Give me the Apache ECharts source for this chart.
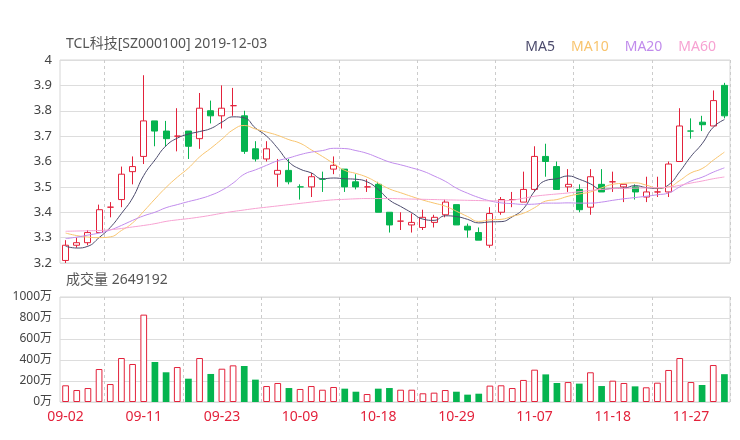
<!DOCTYPE html>
<html>
<head>
<meta charset="utf-8">
<script src="https://cdn.jsdelivr.net/npm/echarts@6/dist/echarts.min.js"></script>
<style>html,body{margin:0;padding:0;background:#fff}#c{width:740px;height:440px}</style>
</head>
<body>
<div id="c"></div>
<script>
var dates = ['09-02','09-03','09-04','09-05','09-06','09-09','09-10','09-11','09-12','09-16','09-17','09-18','09-19','09-20','09-23','09-24','09-25','09-26','09-27','09-30','10-08','10-09','10-10','10-11','10-14','10-15','10-16','10-17','10-18','10-21','10-22','10-23','10-24','10-25','10-28','10-29','10-30','10-31','11-01','11-04','11-05','11-06','11-07','11-08','11-11','11-12','11-13','11-14','11-15','11-18','11-19','11-20','11-21','11-22','11-25','11-26','11-27','11-28','11-29','12-02'];
var openP  = [3.21,3.27,3.28,3.32,3.42,3.45,3.56,3.62,3.76,3.72,3.70,3.72,3.69,3.80,3.78,3.82,3.78,3.65,3.61,3.55,3.565,3.50,3.50,3.53,3.57,3.57,3.52,3.50,3.51,3.40,3.365,3.35,3.34,3.36,3.39,3.43,3.345,3.32,3.27,3.40,3.45,3.44,3.49,3.62,3.58,3.50,3.49,3.42,3.51,3.52,3.50,3.50,3.46,3.48,3.48,3.60,3.72,3.755,3.74,3.90];
var closeP = [3.27,3.28,3.32,3.41,3.42,3.55,3.58,3.76,3.72,3.69,3.70,3.66,3.81,3.78,3.81,3.82,3.64,3.61,3.65,3.565,3.52,3.50,3.54,3.53,3.585,3.50,3.50,3.50,3.40,3.35,3.365,3.36,3.38,3.38,3.44,3.35,3.33,3.29,3.395,3.45,3.45,3.49,3.62,3.60,3.49,3.51,3.41,3.54,3.48,3.52,3.51,3.48,3.48,3.48,3.59,3.74,3.72,3.745,3.84,3.78];
var lowP   = [3.20,3.26,3.27,3.32,3.38,3.42,3.51,3.59,3.66,3.66,3.64,3.61,3.65,3.75,3.73,3.78,3.63,3.60,3.60,3.50,3.51,3.45,3.46,3.48,3.55,3.48,3.49,3.48,3.40,3.32,3.33,3.32,3.33,3.34,3.38,3.35,3.30,3.29,3.26,3.39,3.42,3.44,3.48,3.54,3.49,3.48,3.40,3.39,3.48,3.48,3.44,3.45,3.44,3.46,3.46,3.60,3.69,3.72,3.74,3.77];
var highP  = [3.29,3.30,3.33,3.43,3.44,3.58,3.62,3.94,3.76,3.76,3.81,3.72,3.87,3.84,3.90,3.89,3.80,3.68,3.68,3.61,3.61,3.51,3.555,3.56,3.62,3.57,3.55,3.53,3.52,3.40,3.40,3.395,3.41,3.39,3.45,3.43,3.355,3.34,3.42,3.46,3.48,3.56,3.66,3.67,3.60,3.57,3.51,3.57,3.57,3.56,3.51,3.51,3.54,3.54,3.60,3.81,3.77,3.78,3.88,3.91];
var ma5  = [3.266,3.259,3.266,3.300,3.340,3.395,3.456,3.545,3.606,3.662,3.692,3.708,3.718,3.730,3.755,3.776,3.772,3.732,3.700,3.652,3.598,3.570,3.555,3.532,3.535,3.532,3.530,3.520,3.490,3.448,3.423,3.398,3.373,3.368,3.386,3.383,3.372,3.358,3.362,3.363,3.382,3.414,3.483,3.525,3.532,3.543,3.530,3.512,3.490,3.494,3.495,3.505,3.497,3.494,3.508,3.560,3.620,3.670,3.735,3.765];
var ma10 = [3.318,3.308,3.302,3.300,3.303,3.328,3.358,3.404,3.452,3.498,3.538,3.574,3.618,3.652,3.688,3.725,3.742,3.728,3.716,3.703,3.686,3.672,3.646,3.620,3.592,3.565,3.553,3.538,3.515,3.492,3.477,3.462,3.448,3.436,3.424,3.404,3.383,3.364,3.370,3.372,3.384,3.396,3.418,3.444,3.450,3.463,3.472,3.480,3.496,3.510,3.514,3.516,3.507,3.496,3.500,3.525,3.555,3.572,3.605,3.637];
var ma20 = [3.296,3.302,3.310,3.318,3.330,3.348,3.368,3.386,3.400,3.418,3.430,3.442,3.453,3.467,3.487,3.515,3.550,3.567,3.585,3.603,3.614,3.627,3.637,3.643,3.652,3.651,3.643,3.632,3.615,3.598,3.587,3.575,3.562,3.543,3.522,3.495,3.475,3.458,3.445,3.437,3.434,3.431,3.432,3.436,3.436,3.437,3.436,3.436,3.440,3.447,3.453,3.458,3.463,3.469,3.476,3.500,3.523,3.538,3.558,3.575];
var ma60 = [3.325,3.326,3.327,3.328,3.331,3.336,3.342,3.348,3.355,3.364,3.370,3.375,3.381,3.388,3.396,3.403,3.409,3.415,3.420,3.425,3.430,3.435,3.440,3.445,3.449,3.451,3.453,3.454,3.454,3.454,3.453,3.452,3.451,3.450,3.449,3.448,3.447,3.446,3.445,3.445,3.448,3.455,3.463,3.468,3.472,3.476,3.481,3.486,3.490,3.493,3.494,3.495,3.496,3.497,3.499,3.506,3.515,3.523,3.532,3.539];
var volume = [159,114,133,314,171,419,362,832,381,283,333,222,419,267,317,349,343,213,152,181,133,124,152,117,143,127,98,76,127,133,117,117,83,89,114,98,70,79,156,159,133,210,308,263,181,190,175,283,152,203,181,149,140,184,305,419,190,162,352,264.9192];
var priceTicks = [3.2, 4.0, 0.1];
var volTicks = [0, 1000, 200];
var titleText = 'TCL科技[SZ000100] 2019-12-03';
var volTitle = '成交量';
var maNames = ['MA5','MA10','MA20','MA60'];

var RED = '#e3223b', GREEN = '#05b44f';
var maColors = ['#4b4a6c','#f8c46e','#c18cec','#f7a2d2'];
var FONT = '"Noto Sans","Noto Sans CJK SC",sans-serif';

var kData = dates.map(function(d,i){ return [openP[i], closeP[i], lowP[i], highP[i]]; });
var volData = volume.map(function(v,i){
  var up = closeP[i] >= openP[i];
  return { value: v, itemStyle: up ? {color:'#fff', borderColor: RED, borderWidth: 1} : {color: GREEN} };
});
var maArr = [ma5, ma10, ma20, ma60];

var chart = echarts.init(document.getElementById('c'), null, {renderer:'canvas'});
var splitX = function(i){ return i % 7 === 4; };
chart.setOption({
  animation: false,
  textStyle: {fontFamily: FONT},
  graphic: [
    {type:'text', left: 66, top: 37, style:{text: titleText, fill:'#555', font:'14px ' + FONT}},
    {type:'text', left: 66, top: 273, style:{text: volTitle + ' ' + Math.round(volume[volume.length-1]*10000), fill:'#555', font:'14px ' + FONT}}
  ],
  legend: {
    right: 19, top: 35, icon: 'none', itemWidth: 0, itemGap: 11,
    selectedMode: false,
    textStyle: {fontSize: 14, fontFamily: FONT},
    data: maNames.map(function(n,k){ return {name:n, textStyle:{color: maColors[k]}}; })
  },
  grid: [
    {left: 60, right: 10, top: 60, height: 203, show: true, borderColor: '#d6d6d6', borderWidth: 1},
    {left: 60, right: 10, top: 297, height: 105, show: true, borderColor: '#d6d6d6', borderWidth: 1}
  ],
  xAxis: [
    {type:'category', gridIndex:0, data: dates, boundaryGap: true,
     axisLine:{show:false}, axisTick:{show:false}, axisLabel:{show:false},
     splitLine:{show:true, interval: splitX, lineStyle:{color:'#ccc', type:[3,3]}}},
    {type:'category', gridIndex:1, data: dates, boundaryGap: true,
     axisLine:{show:false}, axisTick:{show:false},
     axisLabel:{show:true, interval: function(i){ return i % 7 === 0; }, color: RED, fontSize: 14, margin: 8},
     splitLine:{show:true, interval: splitX, lineStyle:{color:'#ccc', type:[3,3]}}}
  ],
  yAxis: [
    {type:'value', gridIndex:0, min: priceTicks[0], max: priceTicks[1], interval: priceTicks[2],
     axisLine:{show:false}, axisTick:{show:false},
     axisLabel:{color:'#444', fontSize: 13, margin: 8},
     splitLine:{show:true, lineStyle:{color:'#ddd'}}},
    {type:'value', gridIndex:1, min: volTicks[0], max: volTicks[1], interval: volTicks[2],
     axisLine:{show:false}, axisTick:{show:false},
     axisLabel:{color:'#444', fontSize: 12, margin: 8, formatter: function(v){ return v + '万'; }},
     splitLine:{show:true, lineStyle:{color:'#ddd'}}}
  ],
  series: [
    {type:'candlestick', name:'K', xAxisIndex:0, yAxisIndex:0, data: kData, barWidth: '58%',
     itemStyle:{color:'#fff', color0: GREEN, borderColor: RED, borderColor0: GREEN, borderWidth: 1}}
  ].concat(maNames.map(function(n,k){
    return {type:'line', name:n, xAxisIndex:0, yAxisIndex:0, data: maArr[k], smooth: true,
      showSymbol:false, symbol:'none', lineStyle:{color: maColors[k], width: 1}, itemStyle:{color: maColors[k]}};
  })).concat([
    {type:'bar', name:'VOL', xAxisIndex:1, yAxisIndex:1, data: volData, barWidth: '60%'}
  ])
});
</script>
</body>
</html>
